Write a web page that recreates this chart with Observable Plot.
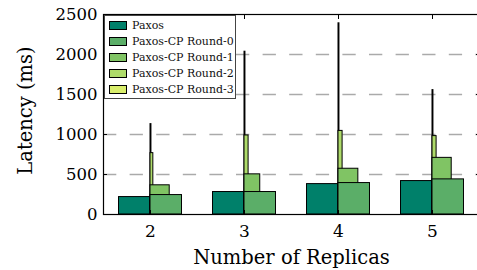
<!DOCTYPE html>
<html>
<head>
<meta charset="utf-8">
<script src="https://cdn.jsdelivr.net/npm/d3@7"></script>
<script src="https://cdn.jsdelivr.net/npm/@observablehq/plot@0.6"></script>
<style>
  html, body { margin: 0; padding: 0; background: white; }
  #wrap { position: relative; width: 477px; height: 270px; overflow: hidden; font-family: "DejaVu Serif", serif; }
  #legend { position: absolute; left: 104px; top: 15px; width: 130px; padding: 1px 0 1px 0; background: white; border: 1px solid #444; box-sizing: content-box; }
  .item { display: flex; align-items: center; height: 16px; font-size: 11px; font-family: "DejaVu Serif", serif; color: #111; white-space: nowrap; }
  .sw { width: 16px; height: 7px; border: 1px solid #000; margin: 0 5px 0 4px; flex: none; }
</style>
</head>
<body>
<div id="wrap"></div>
<script>
// ---- data ----
const replicas = [2, 3, 4, 5];
const seriesNames = ["Paxos", "Paxos-CP Round-0", "Paxos-CP Round-1", "Paxos-CP Round-2", "Paxos-CP Round-3"];
const seriesColors = ["#00806a", "#5bae68", "#80c464", "#aedb6a", "#d9ee6c"];
const paxos  = [218, 281, 380, 418];
const round0 = [243, 281, 393, 439];
const round1 = [365, 502, 572, 708];
const round2 = [767, 988, 1045, 980];
const round3 = [1130, 2035, 2390, 1555];
// fraction of requests reaching each round (drawn as bar width)
const frac0 = [1, 1, 1, 1];
const frac1 = [0.61, 0.5, 0.63, 0.61];
const frac2 = [0.09, 0.13, 0.13, 0.13];
const frac3 = [0.03, 0.03, 0.03, 0.03];
const yTicks = [0, 500, 1000, 1500, 2000, 2500];
const gridTicks = [500, 1000, 1500, 2000];

// ---- build table (later rounds drawn first, so earlier rounds sit on top) ----
const BW = 0.335;
const rows = [];
replicas.forEach((r, i) => {
  rows.push({series: seriesNames[0], x1: i - BW, x2: i, v: paxos[i]});
});
const rounds = [[round0, frac0], [round1, frac1], [round2, frac2], [round3, frac3]];
for (let k = rounds.length - 1; k >= 0; k--) {
  const [vals, fr] = rounds[k];
  replicas.forEach((r, i) => {
    rows.push({series: seriesNames[k + 1], x1: i, x2: i + BW * fr[i], v: vals[i]});
  });
}
const idx = replicas.map((r, i) => i);

const chart = Plot.plot({
  width: 477,
  height: 270,
  marginLeft: 103,
  marginRight: -2,
  marginTop: 14,
  marginBottom: 56,
  style: {fontFamily: "DejaVu Serif", background: "white", color: "black"},
  x: {type: "linear", domain: [-0.5, 3.5], axis: null},
  y: {domain: [0, 2500], axis: null},
  color: {domain: seriesNames, range: seriesColors},
  marks: [
    Plot.gridY(gridTicks, {stroke: "#aaaaaa", strokeOpacity: 1, strokeWidth: 1.5, strokeDasharray: "13.3,13.3"}),
    Plot.rectY(rows, {x1: "x1", x2: "x2", y1: 0, y2: "v", fill: "series", stroke: "black", strokeWidth: 1}),
    Plot.frame({stroke: "black", strokeWidth: 1.2}),
    Plot.axisY(yTicks, {anchor: "left", tickSize: -4, tickPadding: 10, fontSize: 16.5, tickFormat: d => String(d), label: null}),
    Plot.axisY(yTicks, {anchor: "right", tickSize: -4, tickFormat: () => "", label: null}),
    Plot.axisX(idx, {anchor: "bottom", tickSize: -4, tickPadding: 14, fontSize: 17, tickFormat: i => String(replicas[i]), label: null}),
    Plot.axisX(idx, {anchor: "top", tickSize: -4, tickFormat: () => "", label: null}),
    Plot.text(["Number of Replicas"], {frameAnchor: "bottom", text: d => d, dy: 49.5, lineAnchor: "bottom", textAnchor: "middle", fontSize: 19.5}),
    Plot.text(["Latency (ms)"], {frameAnchor: "left", text: d => d, rotate: -90, dx: -72, dy: -4, lineAnchor: "bottom", textAnchor: "middle", fontSize: 19.5})
  ]
});
const wrap = document.getElementById("wrap");
wrap.appendChild(chart);

// legend (inside the axes, upper left)
const legend = document.createElement("div");
legend.id = "legend";
seriesNames.forEach((name, k) => {
  const it = document.createElement("div");
  it.className = "item";
  const sw = document.createElement("span");
  sw.className = "sw";
  sw.style.background = seriesColors[k];
  const tx = document.createElement("span");
  tx.textContent = name;
  it.appendChild(sw);
  it.appendChild(tx);
  legend.appendChild(it);
});
wrap.appendChild(legend);
</script>
</body>
</html>
